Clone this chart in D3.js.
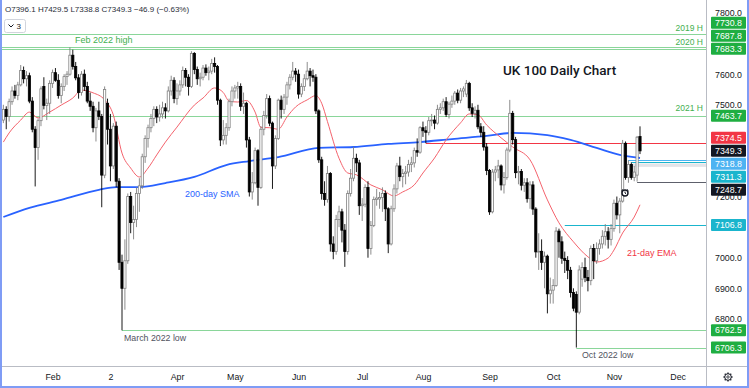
<!DOCTYPE html>
<html>
<head>
<meta charset="utf-8">
<script src="https://cdn.jsdelivr.net/npm/d3@7"></script>
<style>
  body { margin: 0; background: #fff; }
  svg { display: block; font-family: "Liberation Sans", Arial, sans-serif; }
</style>
</head>
<body>
<svg id="chart" width="749" height="388"></svg>
<script>

////////////////////////// DATA //////////////////////////

// daily bars, 7 Jan 2022 -> 14 Nov 2022 (index = bar number)
const opens = [
  7450,7485,7462,7510,7545,7530,7565,7612,7585,7595,
  7512,7420,7360,7448,7560,7498,7505,7570,7605,7580,
  7530,7560,7592,7600,7662,7625,7588,7540,7600,7560,
  7512,7495,7425,7480,7462,7270,7505,7420,7300,7430,
  7250,6985,6900,6990,7200,7115,7125,7210,7235,7330,
  7390,7425,7455,7485,7460,7470,7490,7480,7545,7580,
  7520,7545,7565,7612,7590,7560,7668,7615,7585,7590,
  7620,7605,7610,7635,7625,7515,7385,7400,7425,7510,
  7545,7555,7560,7495,7505,7385,7215,7245,7350,7230,
  7420,7465,7520,7440,7300,7390,7515,7485,7525,7565,
  7590,7610,7600,7535,7560,7585,7610,7595,7590,7480,
  7320,7210,7190,7275,7045,7020,7125,7150,7090,7020,
  7210,7260,7325,7310,7170,7175,7230,7030,7105,7190,
  7192,7197,7210,7160,7045,7160,7225,7300,7265,7275,
  7280,7305,7310,7350,7345,7425,7415,7410,7448,7450,
  7440,7485,7490,7510,7468,7502,7512,7538,7515,7545,
  7535,7570,7490,7472,7482,7428,7410,7362,7285,7150,
  7280,7287,7300,7238,7262,7352,7472,7386,7278,7282,
  7237,7245,7193,7238,7159,7019,7021,6985,7005,6882,
  6894,6909,7087,7052,6998,6991,6959,6886,6880,6822,
  6930,6968,6935,6925,7030,6990,7030,7045,7070,7085,
  7060,7095,7178,7140,7185,7374,7262,7305,7262,7270,
  7396.1
]
const highs = [
  7500,7495,7520,7560,7565,7575,7630,7625,7610,7605,
  7525,7430,7455,7560,7590,7520,7580,7615,7620,7600,
  7570,7600,7610,7687.8,7680,7640,7600,7610,7615,7575,
  7540,7510,7490,7510,7470,7560,7520,7470,7440,7445,
  7260,7010,7060,7210,7215,7170,7230,7260,7340,7400,
  7435,7470,7495,7495,7500,7510,7505,7560,7595,7590,
  7570,7580,7625,7620,7600,7675,7672,7625,7605,7630,
  7632,7625,7650,7655,7630,7520,7450,7440,7520,7560,
  7565,7575,7570,7540,7510,7395,7280,7360,7355,7430,
  7480,7535,7530,7445,7400,7520,7530,7535,7575,7600,
  7640,7620,7615,7570,7600,7640,7620,7615,7600,7485,
  7330,7250,7300,7280,7070,7140,7170,7160,7110,7220,
  7290,7363,7340,7320,7195,7240,7250,7120,7200,7225,
  7215,7230,7220,7165,7170,7240,7310,7330,7290,7300,
  7320,7330,7360,7390,7430,7445,7430,7460,7470,7465,
  7500,7505,7520,7525,7510,7530,7545,7550,7555,7560,
  7581,7575,7505,7495,7500,7440,7430,7375,7290,7290,
  7300,7320,7305,7280,7360,7516,7480,7395,7300,7290,
  7260,7260,7250,7250,7165,7080,7060,7020,7010,6935,
  6930,7100,7095,7070,7020,7005,6970,6900,6890,6975,
  6985,7000,6960,7040,7045,7050,7060,7090,7110,7100,
  7110,7190,7200,7195,7385,7380,7318.8,7311.3,7300,7398,
  7429.5
]
const lows = [
  7440,7420,7445,7500,7520,7515,7560,7570,7560,7505,
  7410,7233,7320,7430,7485,7450,7470,7555,7575,7520,
  7505,7545,7565,7595,7615,7580,7520,7530,7545,7505,
  7480,7410,7380,7450,7165,7260,7370,7250,7290,7230,
  6960,6762.5,6830,6980,7080,7060,7100,7150,7225,7310,
  7360,7410,7430,7440,7445,7455,7455,7475,7530,7505,
  7500,7530,7555,7560,7530,7555,7600,7565,7560,7580,
  7595,7580,7600,7605,7500,7365,7370,7370,7415,7495,
  7520,7520,7480,7470,7360,7200,7190,7240,7170,7225,
  7400,7455,7430,7225,7290,7385,7455,7470,7500,7550,
  7580,7575,7520,7525,7545,7580,7560,7575,7470,7310,
  7190,7170,7180,7020,6995,7010,7100,7050,6970,7010,
  7200,7250,7280,7140,7120,7165,7000,7010,7100,7170,
  7160,7150,7120,7015,7040,7150,7210,7250,7230,7240,
  7265,7280,7295,7330,7340,7395,7374.5,7400,7430,7420,
  7435,7470,7480,7460,7455,7490,7500,7505,7505,7525,
  7525,7480,7460,7455,7420,7395,7350,7270,7140,7145,
  7250,7260,7220,7210,7255,7345,7370,7260,7240,7220,
  7215,7180,7160,7140,7000,6960,6960,6900,6818,6850,
  6850,6905,7000,6980,6950,6930,6870,6825,6706.3,6815,
  6905,6920,6890,6910,6930,6980,7010,7030,7040,7030,
  7040,7085,7125,7080,7180,7255,7245,7255,7250,7248.7,
  7338.8
]
const closes = [
  7485,7462,7510,7545,7530,7565,7612,7585,7595,7512,
  7420,7360,7448,7552,7498,7505,7570,7605,7580,7530,
  7560,7592,7600,7662,7625,7588,7540,7600,7560,7512,
  7495,7425,7480,7462,7270,7550,7420,7300,7430,7250,
  6985,6900,6990,7200,7115,7125,7210,7235,7330,7390,
  7425,7455,7485,7460,7470,7490,7480,7545,7580,7520,
  7545,7565,7612,7590,7560,7668,7615,7585,7590,7620,
  7605,7610,7635,7625,7515,7385,7400,7425,7510,7545,
  7555,7560,7495,7505,7385,7215,7245,7350,7230,7420,
  7465,7520,7440,7300,7390,7515,7485,7525,7565,7590,
  7610,7600,7535,7560,7585,7610,7595,7590,7480,7320,
  7210,7190,7275,7045,7020,7125,7150,7090,7020,7210,
  7260,7325,7310,7170,7175,7230,7030,7105,7190,7195,
  7197,7210,7160,7045,7160,7225,7300,7265,7275,7280,
  7305,7310,7350,7345,7425,7415,7410,7448,7450,7440,
  7485,7490,7510,7468,7502,7512,7538,7515,7545,7552,
  7570,7490,7472,7482,7428,7410,7362,7285,7150,7280,
  7287,7300,7238,7262,7352,7472,7386,7278,7282,7237,
  7245,7193,7238,7159,7019,7021,6985,7005,6882,6894,
  6909,7087,7052,6998,6991,6959,6886,6835,6822,6960,
  6968,6935,6925,7030,6990,7030,7045,7070,7085,7060,
  7095,7178,7140,7185,7374,7262,7305,7262,7280,7394,
  7349.3
]

// 200-day SMA (bar index, price)
const smaIdx = [0, 9, 20, 33, 39, 47, 56, 66, 77, 85, 95, 109, 121, 133, 144, 155, 167, 176, 188, 196, 205, 213, 220]
const smaVal = [7133, 7163, 7189, 7222, 7231, 7231, 7244, 7264, 7303, 7316, 7329, 7359, 7362, 7372, 7378, 7388, 7398, 7408, 7401, 7385, 7359, 7336, 7326]

// 21-day EMA (bar index, price)
const emaIdx = [0, 2, 6, 9, 12, 16, 20, 24, 27, 31, 35, 38, 41, 44, 47, 50, 53, 56, 60, 66, 69, 73, 76, 78, 81, 84, 87, 89, 92, 95, 98, 101, 105, 108, 110, 112, 116, 119, 122, 127, 131, 135, 138, 142, 145, 149, 153, 158, 161, 164, 167, 172, 176, 182, 188, 192, 197, 202, 205, 209, 211, 214, 218, 220]
const emaVal = [7378, 7408, 7450, 7476, 7457, 7476, 7499, 7522, 7548, 7539, 7516, 7467, 7342, 7293, 7264, 7293, 7336, 7378, 7427, 7499, 7522, 7555, 7540, 7512, 7509, 7514, 7476, 7426, 7425, 7420, 7460, 7493, 7516, 7530, 7505, 7445, 7325, 7277, 7271, 7238, 7222, 7202, 7215, 7238, 7277, 7326, 7385, 7441, 7470, 7467, 7434, 7392, 7362, 7320, 7189, 7114, 7052, 7003, 6986, 6999, 7025, 7081, 7133, 7173]

// first bar of each month on the time axis
const monthTickIdx = [17, 37, 60, 80, 102, 124, 145, 168, 190, 211, 233]
const monthTickLabels = ['Feb', '2', 'Apr', 'May', 'Jun', 'Jul', 'Aug', 'Sep', 'Oct', 'Nov', 'Dec']
const priceTicks = [6800, 6900, 7000, 7100, 7200, 7300, 7400, 7500, 7600, 7700, 7800]

// horizontal levels (sorted high -> low), kind, bar where the line starts (null = whole chart)
const levelVals  = [7730.8, 7687.8, 7683.3, 7463.7, 7374.5, 7349.3, 7318.8, 7311.3, 7248.7, 7106.8, 6762.5, 6706.3]
const levelKinds = ['green', 'green', 'green', 'green', 'red', 'last', 'blue', 'cyan', 'black', 'cyan', 'green', 'green']
const levelFrom  = [null, null, null, null, 146, null, 216, 217, 219, 194, 41, 198]

const lastBar = { o: 7396.1, h: 7429.5, l: 7338.8, c: 7349.3, chg: -46.9, pct: -0.63 }


////////////////////////// SETUP //////////////////////////

const W = 749, H = 388
const paneL = 2, paneR = 706.5, paneB = 366.5

const svg = d3.select('#chart')

const x = d3.scaleLinear().domain([41, 220]).range([122, 640])
const y = d3.scaleLinear().domain([6646, 7842.5]).range([366, 0])

const boxFill = { green: '#1fae41', red: '#f23645', last: '#131722', blue: '#4db3f2', cyan: '#1ab5cd', black: '#131722' }
const lineCol = { green: '#8ad69a', red: '#f23645', blue: '#4db3f2', cyan: '#1ab5cd', black: '#5d606b' }
const green = '#43b04f'

svg.append('rect').attr('width', W).attr('height', H).attr('fill', '#fff')

svg.append('defs').append('clipPath').attr('id', 'pane')
  .append('rect').attr('x', paneL).attr('y', 0).attr('width', paneR - paneL).attr('height', paneB)

const pane = svg.append('g').attr('clip-path', 'url(#pane)')


////////////////////////// LEVEL LINES //////////////////////////

const levels = levelVals.map((v, k) => ({ v, kind: levelKinds[k], from: levelFrom[k] }))

// grey band under the 7311.3 line
pane.append('rect')
  .attr('x', x(217)).attr('width', paneR - x(217))
  .attr('y', y(7311.3) + 1).attr('height', y(7297) - y(7311.3) - 1)
  .attr('fill', '#e3e4e8')

pane.selectAll('.level-line')
  .data(levels.filter(d => d.kind !== 'last'))
  .join('line')
  .attr('class', 'level-line')
  .attr('x1', d => d.from === null ? paneL : x(d.from))
  .attr('x2', paneR)
  .attr('y1', d => Math.round(y(d.v)) + 0.5)
  .attr('y2', d => Math.round(y(d.v)) + 0.5)
  .attr('stroke', d => lineCol[d.kind])
  .attr('stroke-width', 1)


////////////////////////// MOVING AVERAGES //////////////////////////

const smaPts = smaIdx.map((d, k) => [d, smaVal[k]])
const emaPts = emaIdx.map((d, k) => [d, emaVal[k]])

const maLine = d3.line()
  .x(d => x(d[0]))
  .y(d => y(d[1]))
  .curve(d3.curveMonotoneX)

pane.append('path')
  .attr('d', maLine(smaPts))
  .attr('fill', 'none')
  .attr('stroke', '#2962ff')
  .attr('stroke-width', 1.8)

pane.append('path')
  .attr('d', maLine(emaPts))
  .attr('fill', 'none')
  .attr('stroke', '#f4626c')
  .attr('stroke-width', 1)


////////////////////////// CANDLES //////////////////////////

const bars = closes.map((c, i) => ({ i, o: opens[i], h: highs[i], l: lows[i], c }))
const isUp = (d) => d.c >= d.o

pane.selectAll('.wick')
  .data(bars)
  .join('line')
  .attr('class', 'wick')
  .attr('x1', d => x(d.i))
  .attr('x2', d => x(d.i))
  .attr('y1', d => y(d.h))
  .attr('y2', d => y(d.l))
  .attr('stroke', d => isUp(d) ? '#808080' : '#000')
  .attr('stroke-width', 0.9)

pane.selectAll('.body')
  .data(bars)
  .join('rect')
  .attr('class', 'body')
  .attr('x', d => x(d.i) - 1.1)
  .attr('width', 2.2)
  .attr('y', d => y(Math.max(d.o, d.c)))
  .attr('height', d => Math.max(0.8, Math.abs(y(d.o) - y(d.c))))
  .attr('fill', d => isUp(d) ? '#fff' : '#000')
  .attr('stroke', d => isUp(d) ? '#808080' : '#000')
  .attr('stroke-width', 0.8)

// alert clock glyph
const clock = pane.append('g').attr('transform', 'translate(625,193)')
clock.append('circle').attr('r', 3).attr('fill', '#fff').attr('stroke', '#131722').attr('stroke-width', 1.4)
clock.append('path').attr('d', 'M-3.5,-2.2 L-2,-3.6 M3.5,-2.2 L2,-3.6 M0,-1.5 L0,0 L1,0.8')
  .attr('stroke', '#131722').attr('stroke-width', 1).attr('fill', 'none')


////////////////////////// TEXTS //////////////////////////

const note = (txt, px, py, col, size, anchor) =>
  svg.append('text')
    .attr('x', px).attr('y', py)
    .attr('fill', col)
    .attr('font-size', size)
    .attr('text-anchor', anchor || 'start')
    .text(txt)

note('Feb 2022 high', 75, y(7687.8) - 4, green, 9)
note('2019 H', 703, y(7730.8) - 3, green, 8.5, 'end')
note('2020 H', 703, y(7683.3) - 3.5, green, 8.5, 'end')
note('2021 H', 703, y(7463.7) - 5, green, 8.5, 'end')
note('200-day SMA', 185, 197, '#2962ff', 9)
note('21-day EMA', 627, 256, '#f23645', 9)
note('March 2022 low', 124, y(6762.5) + 10.5, '#50535e', 8.8)
note('Oct 2022 low', 582, y(6706.3) + 10.5, '#50535e', 8.8)

svg.append('text')
  .attr('x', 503).attr('y', 75)
  .attr('font-family', 'Roboto, sans-serif')
  .attr('font-weight', 500)
  .attr('font-size', 13.5)
  .attr('fill', '#131722')
  .text('UK 100 Daily Chart')

// legend line
const fmt1 = d3.format('.1f')
svg.append('text')
  .attr('x', 5).attr('y', 12)
  .attr('font-size', 8)
  .attr('fill', '#2a2e39')
  .text(`O${fmt1(lastBar.o)} H${fmt1(lastBar.h)} L${fmt1(lastBar.l)} C${fmt1(lastBar.c)} \u2212${fmt1(-lastBar.chg)} (\u2212${d3.format('.2f')(-lastBar.pct)}%)`)

const btn = svg.append('g').attr('transform', 'translate(4.5,19.5)')
btn.append('rect').attr('width', 21).attr('height', 13).attr('rx', 2)
  .attr('fill', '#fff').attr('stroke', '#d1d4dc')
btn.append('path').attr('d', 'M4,5 L6.5,7.5 L9,5').attr('fill', 'none').attr('stroke', '#131722').attr('stroke-width', 1)
btn.append('text').attr('x', 12).attr('y', 9.5).attr('font-size', 8).attr('fill', '#131722').text('3')


////////////////////////// PRICE LABELS (positions) //////////////////////////

// stack boxes away from the pinned last-price label
const boxH = 12, boxGap = 13
const tags = levels.map(d => ({ ...d, py: y(d.v) }))
const pin = tags.findIndex(d => d.kind === 'last')
for (let k = pin - 1; k >= 0; k--) tags[k].py = Math.min(y(tags[k].v), tags[k + 1].py - boxGap)
for (let k = pin + 1; k < tags.length; k++) tags[k].py = Math.max(y(tags[k].v), tags[k - 1].py + boxGap)

// axis ticks fully hidden under a box are not drawn (partly covered ones stay)
const shownTicks = priceTicks.filter(t => !tags.some(d => Math.abs(d.py - y(t)) < boxH / 2))


////////////////////////// AXES //////////////////////////

// separators
svg.append('line').attr('x1', paneR).attr('x2', paneR).attr('y1', 0).attr('y2', H)
  .attr('stroke', '#b9bcc4').attr('stroke-width', 1)
svg.append('line').attr('x1', 0).attr('x2', W).attr('y1', paneB).attr('y2', paneB)
  .attr('stroke', '#b9bcc4').attr('stroke-width', 1)

const yAxis = d3.axisRight(y).tickValues(shownTicks).tickSize(0).tickFormat(fmt1)
const gy = svg.append('g').attr('transform', `translate(${paneR},0)`).call(yAxis)
gy.select('.domain').remove()
gy.selectAll('text')
  .attr('x', 22).attr('text-anchor', 'middle')
  .attr('font-size', 8.8).attr('fill', '#131722')
  .attr('font-family', '"Liberation Sans", Arial, sans-serif')

const xAxis = d3.axisBottom(x).tickValues(monthTickIdx).tickSize(0).tickPadding(7)
  .tickFormat((d, k) => monthTickLabels[k])
const gx = svg.append('g').attr('transform', `translate(0,${paneB})`).call(xAxis)
gx.select('.domain').remove()
gx.selectAll('text')
  .attr('font-size', 8.8).attr('fill', '#131722')
  .attr('font-family', '"Liberation Sans", Arial, sans-serif')

// settings gear
const gear = svg.append('g').attr('transform', 'translate(728,377)')
gear.selectAll('line').data(d3.range(8)).join('line')
  .attr('x1', 0).attr('y1', 0).attr('x2', 0).attr('y2', -4.6)
  .attr('transform', d => `rotate(${d * 45})`)
  .attr('stroke', '#131722').attr('stroke-width', 1.3)
gear.append('circle').attr('r', 3.3).attr('fill', '#fff').attr('stroke', '#131722').attr('stroke-width', 1)
gear.append('circle').attr('r', 1.2).attr('fill', '#fff').attr('stroke', '#131722').attr('stroke-width', 0.8)


////////////////////////// PRICE LABELS (boxes) //////////////////////////

const tagG = svg.selectAll('.tag').data(tags).join('g')
  .attr('class', 'tag')
  .attr('transform', d => `translate(711,${d.py})`)

tagG.append('rect')
  .attr('x', 0).attr('y', -boxH / 2)
  .attr('width', 35).attr('height', boxH)
  .attr('rx', 1)
  .attr('fill', d => boxFill[d.kind])

tagG.append('text')
  .attr('x', 17.5).attr('dy', '0.35em')
  .attr('text-anchor', 'middle')
  .attr('font-size', 8.8)
  .attr('fill', '#fff')
  .text(d => fmt1(d.v))


////////////////////////// FRAME //////////////////////////

svg.append('path')
  .attr('d', `M1,0 V${H - 1} H${W - 1} V0`)
  .attr('fill', 'none')
  .attr('stroke', '#7f9cf5')
  .attr('stroke-width', 2)

</script>
</body>
</html>
